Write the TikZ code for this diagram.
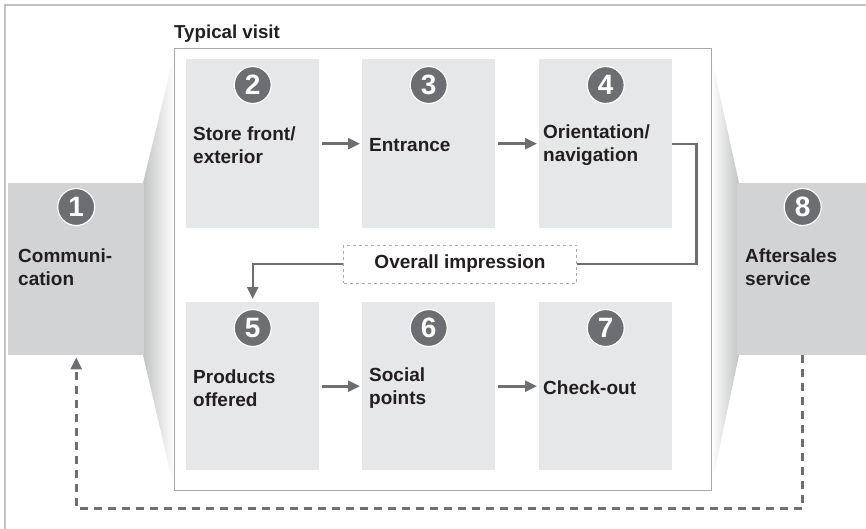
\documentclass[tikz,border=0pt]{standalone}
\usepackage{fontspec}
\setmainfont{Liberation Sans}
\usepackage{xcolor}
\usetikzlibrary{arrows,shapes,positioning,fit,arrows.meta,backgrounds,calc}

\definecolor{stepgray}{HTML}{E6E7E8}
\definecolor{sidegray}{HTML}{D1D3D4}
\definecolor{markgray}{HTML}{6D6E71}
\definecolor{linegray}{HTML}{A7A9AC}
\definecolor{inktext}{HTML}{231F20}

\begin{document}
\begin{tikzpicture}[x=1pt,y=-1pt,
  font=\fontsize{19}{23}\selectfont\bfseries, text=inktext,
  stepbox/.style={fill=stepgray, inner sep=0pt, anchor=north west, minimum width=133pt},
  sidebox/.style={fill=sidegray, inner sep=0pt, anchor=north west, minimum height=172pt},
  num/.style={circle, fill=markgray, draw=white, line width=1.2pt, minimum size=37pt,
    inner sep=0pt, text=white, font=\fontsize{28}{28}\selectfont\bfseries},
  lbl/.style={anchor=west, align=left, inner sep=0pt, yshift=-1.5pt},
  flow/.style={draw=markgray, line width=2.6pt},
  tip/.style={-{Triangle[length=12pt,width=11pt]}}]
\useasboundingbox (0,0) rectangle (866,528);

% outer frame
\draw[sidegray!80!gray, line width=1.5pt] (5,535) -- (5,5) -- (870,5);

% funnels into and out of the visit
\shade[left color=sidegray!80!gray, right color=white] (143,183) -- (174,55) -- (174,488) -- (143,355) -- cycle;
\shade[left color=white, right color=sidegray!80!gray] (711,55) -- (739,183) -- (739,355) -- (711,488) -- cycle;

% typical visit frame
\node[draw=linegray, line width=1pt, fill=white, anchor=north west, inner sep=0pt,
  minimum width=537pt, minimum height=442pt] (visit) at (174,48) {};
\node[anchor=base west, inner sep=0pt, font=\fontsize{18.7}{22}\selectfont\bfseries]
  (title) at ([yshift=9.5pt]visit.north west) {Typical visit};

% side steps
\node[sidebox, minimum width=136pt] (s1) at (8,183) {};
\node[sidebox, minimum width=131pt] (s8) at (737,183) {};
\node[num] (n1) at ([yshift=-24pt]s1.north) {1};
\node[num] (n8) at ([yshift=-24pt]s8.north) {8};
\node[lbl] (t1) at (18,266) {Communi-\\cation};
\node[lbl] (t8) at (745,266) {Aftersales\\service};

% steps in the store
\node[stepbox, minimum height=169pt] (s2) at (186,59) {};
\node[stepbox, minimum height=169pt] (s3) at (362,59) {};
\node[stepbox, minimum height=169pt] (s4) at (539,59) {};
\node[stepbox, minimum height=168pt] (s5) at (186,302) {};
\node[stepbox, minimum height=168pt] (s6) at (362,302) {};
\node[stepbox, minimum height=168pt] (s7) at (539,302) {};

\foreach \i in {2,...,7}
  \node[num] (n\i) at ([yshift=-26pt]s\i.north) {\i};

\node[lbl] (t2) at ([xshift=7pt]s2.west) {Store front/\\exterior};
\node[lbl] (t3) at ([xshift=7pt]s3.west) {Entrance};
\node[lbl] (t4) at ([xshift=4pt]s4.west) {Orientation/\\navigation};
\node[lbl] (t5) at ([xshift=7pt]s5.west) {Products\\offered};
\node[lbl] (t6) at ([xshift=7pt]s6.west) {Social\\points};
\node[lbl] (t7) at ([xshift=4pt]s7.west) {Check-out};

\node[draw=linegray, dashed, line width=1pt, fill=white, inner sep=0pt,
  minimum width=233pt, minimum height=38pt] (imp) at (460,264) {Overall impression};

% arrows between the steps
\draw[flow, tip, shorten <=3pt, shorten >=2pt] (s2.east) -- (s3.west);
\draw[flow, tip, shorten <=3pt, shorten >=2pt] (s3.east) -- (s4.west);
\draw[flow, tip, shorten <=3pt, shorten >=2pt] (s5.east) -- (s6.west);
\draw[flow, tip, shorten <=3pt, shorten >=2pt] (s6.east) -- (s7.west);

% loop through the overall impression
\draw[flow, line width=2.2pt] (s4.east) -- ++(24,0) |- (imp.east);
\draw[flow, line width=2.2pt, tip, shorten >=3pt] (imp.west) -| (s5.north);

% aftersales back to communication
\draw[flow, dash pattern=on 8pt off 6pt, tip, shorten >=2pt] (s8.south) -- ++(0,153) -| (s1.south);
\end{tikzpicture}
\end{document}
